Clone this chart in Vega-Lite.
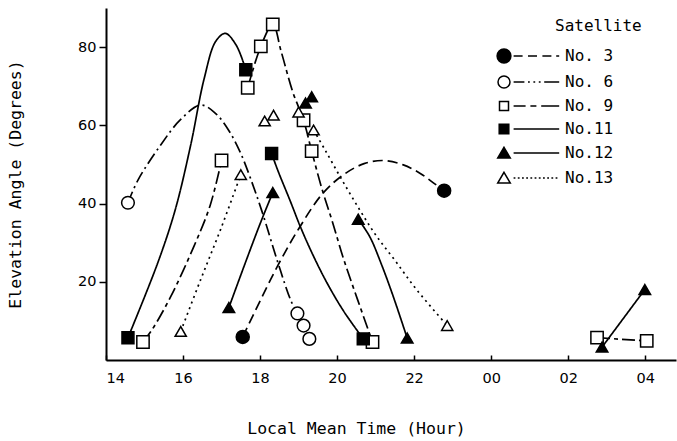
{
  "$schema": "https://vega.github.io/schema/vega-lite/v6.json",
  "width": 570,
  "height": 352,
  "autosize": {"type": "none"},
  "padding": {"left": 106, "top": 8, "right": 1, "bottom": 81},
  "background": "white",
  "config": {
    "view": {"stroke": null},
    "axis": {"grid": false, "domainColor": "black", "domainWidth": 2, "tickColor": "black", "tickWidth": 1.5, "labelColor": "black", "titleColor": "black", "labelFont": "DejaVu Sans", "labelFontSize": 14.5, "titleFont": "DejaVu Sans Mono", "titleFontSize": 16.5, "titleFontWeight": "normal"},
    "legend": {"labelFont": "DejaVu Sans Mono", "labelFontSize": 16, "titleFont": "DejaVu Sans Mono", "titleFontSize": 16, "titleFontWeight": "normal", "labelColor": "black", "titleColor": "black"}
  },
  "datasets": {
    "pts": [
      {"sat": "No. 3", "t": 17.55, "elev": 5.9},
      {"sat": "No. 3", "t": 22.78, "elev": 43.3},
      {"sat": "No. 6", "t": 14.57, "elev": 40.2},
      {"sat": "No. 6", "t": 18.97, "elev": 11.9},
      {"sat": "No. 6", "t": 19.13, "elev": 8.8},
      {"sat": "No. 6", "t": 19.28, "elev": 5.4},
      {"sat": "No. 9", "t": 14.96, "elev": 4.6},
      {"sat": "No. 9", "t": 17.0, "elev": 51.0},
      {"sat": "No. 9", "t": 17.68, "elev": 69.6},
      {"sat": "No. 9", "t": 18.02, "elev": 80.2},
      {"sat": "No. 9", "t": 18.33, "elev": 85.8},
      {"sat": "No. 9", "t": 19.13, "elev": 61.3},
      {"sat": "No. 9", "t": 19.34, "elev": 53.4},
      {"sat": "No. 9", "t": 20.92, "elev": 4.6},
      {"sat": "No. 9", "t": 26.75, "elev": 5.7},
      {"sat": "No. 9", "t": 28.04, "elev": 4.9},
      {"sat": "No.11", "t": 14.57, "elev": 5.7},
      {"sat": "No.11", "t": 17.63, "elev": 74.2},
      {"sat": "No.11", "t": 18.3, "elev": 52.8},
      {"sat": "No.11", "t": 20.68, "elev": 5.4},
      {"sat": "No.12", "t": 17.19, "elev": 13.4},
      {"sat": "No.12", "t": 18.33, "elev": 42.8},
      {"sat": "No.12", "t": 19.18, "elev": 65.7},
      {"sat": "No.12", "t": 19.34, "elev": 67.3},
      {"sat": "No.12", "t": 20.55, "elev": 36.0},
      {"sat": "No.12", "t": 21.82, "elev": 5.6},
      {"sat": "No.12", "t": 26.88, "elev": 3.3},
      {"sat": "No.12", "t": 27.99, "elev": 18.0},
      {"sat": "No.13", "t": 15.94, "elev": 7.3},
      {"sat": "No.13", "t": 17.5, "elev": 47.4},
      {"sat": "No.13", "t": 18.12, "elev": 61.1},
      {"sat": "No.13", "t": 18.35, "elev": 62.6},
      {"sat": "No.13", "t": 19.0, "elev": 63.4},
      {"sat": "No.13", "t": 19.39, "elev": 58.8},
      {"sat": "No.13", "t": 22.86, "elev": 8.8}
    ],
    "curves": [
      {"sat": "No. 3", "seg": "3a", "t": 17.55, "elev": 5.9},
      {"sat": "No. 3", "seg": "3a", "t": 18.02, "elev": 15.5},
      {"sat": "No. 3", "seg": "3a", "t": 18.48, "elev": 24.5},
      {"sat": "No. 3", "seg": "3a", "t": 19.0, "elev": 33.5},
      {"sat": "No. 3", "seg": "3a", "t": 19.62, "elev": 42.5},
      {"sat": "No. 3", "seg": "3a", "t": 20.17, "elev": 47.4},
      {"sat": "No. 3", "seg": "3a", "t": 20.7, "elev": 50.2},
      {"sat": "No. 3", "seg": "3a", "t": 21.2, "elev": 51.0},
      {"sat": "No. 3", "seg": "3a", "t": 21.72, "elev": 49.9},
      {"sat": "No. 3", "seg": "3a", "t": 22.16, "elev": 47.7},
      {"sat": "No. 3", "seg": "3a", "t": 22.5, "elev": 45.3},
      {"sat": "No. 3", "seg": "3a", "t": 22.78, "elev": 43.3},
      {"sat": "No. 6", "seg": "6a", "t": 14.57, "elev": 40.2},
      {"sat": "No. 6", "seg": "6a", "t": 14.83, "elev": 46.0},
      {"sat": "No. 6", "seg": "6a", "t": 15.42, "elev": 55.0},
      {"sat": "No. 6", "seg": "6a", "t": 15.94, "elev": 61.5},
      {"sat": "No. 6", "seg": "6a", "t": 16.46, "elev": 65.2},
      {"sat": "No. 6", "seg": "6a", "t": 16.85, "elev": 63.0},
      {"sat": "No. 6", "seg": "6a", "t": 17.2, "elev": 58.5},
      {"sat": "No. 6", "seg": "6a", "t": 17.5, "elev": 52.8},
      {"sat": "No. 6", "seg": "6a", "t": 17.75, "elev": 46.5},
      {"sat": "No. 6", "seg": "6a", "t": 18.05, "elev": 38.0},
      {"sat": "No. 6", "seg": "6a", "t": 18.46, "elev": 25.0},
      {"sat": "No. 6", "seg": "6a", "t": 18.8, "elev": 15.2},
      {"sat": "No. 6", "seg": "6a", "t": 18.97, "elev": 11.9},
      {"sat": "No. 9", "seg": "9a", "t": 14.96, "elev": 4.6},
      {"sat": "No. 9", "seg": "9a", "t": 15.2, "elev": 7.8},
      {"sat": "No. 9", "seg": "9a", "t": 15.68, "elev": 16.2},
      {"sat": "No. 9", "seg": "9a", "t": 16.28, "elev": 29.0},
      {"sat": "No. 9", "seg": "9a", "t": 16.7, "elev": 39.4},
      {"sat": "No. 9", "seg": "9a", "t": 17.0, "elev": 51.0},
      {"sat": "No. 9", "seg": "9b", "t": 17.68, "elev": 69.6},
      {"sat": "No. 9", "seg": "9b", "t": 18.02, "elev": 80.2},
      {"sat": "No. 9", "seg": "9b", "t": 18.33, "elev": 85.8},
      {"sat": "No. 9", "seg": "9b", "t": 18.55, "elev": 78.8},
      {"sat": "No. 9", "seg": "9b", "t": 18.85, "elev": 68.5},
      {"sat": "No. 9", "seg": "9b", "t": 19.13, "elev": 61.3},
      {"sat": "No. 9", "seg": "9b", "t": 19.34, "elev": 53.4},
      {"sat": "No. 9", "seg": "9b", "t": 19.6, "elev": 44.0},
      {"sat": "No. 9", "seg": "9b", "t": 19.88, "elev": 35.3},
      {"sat": "No. 9", "seg": "9b", "t": 20.17, "elev": 25.8},
      {"sat": "No. 9", "seg": "9b", "t": 20.53, "elev": 15.5},
      {"sat": "No. 9", "seg": "9b", "t": 20.92, "elev": 4.6},
      {"sat": "No. 9", "seg": "9c", "t": 26.75, "elev": 5.7},
      {"sat": "No. 9", "seg": "9c", "t": 28.04, "elev": 4.9},
      {"sat": "No.11", "seg": "11a", "t": 14.57, "elev": 5.7},
      {"sat": "No.11", "seg": "11a", "t": 15.35, "elev": 25.0},
      {"sat": "No.11", "seg": "11a", "t": 15.8, "elev": 38.5},
      {"sat": "No.11", "seg": "11a", "t": 16.2, "elev": 55.0},
      {"sat": "No.11", "seg": "11a", "t": 16.55, "elev": 72.0},
      {"sat": "No.11", "seg": "11a", "t": 16.85, "elev": 81.5},
      {"sat": "No.11", "seg": "11a", "t": 17.1, "elev": 83.5},
      {"sat": "No.11", "seg": "11a", "t": 17.38, "elev": 80.5},
      {"sat": "No.11", "seg": "11a", "t": 17.63, "elev": 74.2},
      {"sat": "No.11", "seg": "11b", "t": 18.3, "elev": 52.8},
      {"sat": "No.11", "seg": "11b", "t": 18.46, "elev": 48.5},
      {"sat": "No.11", "seg": "11b", "t": 18.79, "elev": 40.5},
      {"sat": "No.11", "seg": "11b", "t": 19.05, "elev": 34.0},
      {"sat": "No.11", "seg": "11b", "t": 19.39, "elev": 26.5},
      {"sat": "No.11", "seg": "11b", "t": 19.75, "elev": 19.5},
      {"sat": "No.11", "seg": "11b", "t": 20.17, "elev": 12.5},
      {"sat": "No.11", "seg": "11b", "t": 20.68, "elev": 5.4},
      {"sat": "No.12", "seg": "12a", "t": 17.19, "elev": 13.4},
      {"sat": "No.12", "seg": "12a", "t": 17.68, "elev": 26.5},
      {"sat": "No.12", "seg": "12a", "t": 18.02, "elev": 35.3},
      {"sat": "No.12", "seg": "12a", "t": 18.33, "elev": 42.8},
      {"sat": "No.12", "seg": "12b", "t": 20.55, "elev": 36.0},
      {"sat": "No.12", "seg": "12b", "t": 20.85, "elev": 31.5},
      {"sat": "No.12", "seg": "12b", "t": 21.15, "elev": 24.5},
      {"sat": "No.12", "seg": "12b", "t": 21.46, "elev": 16.2},
      {"sat": "No.12", "seg": "12b", "t": 21.82, "elev": 5.6},
      {"sat": "No.12", "seg": "12c", "t": 26.88, "elev": 3.3},
      {"sat": "No.12", "seg": "12c", "t": 27.99, "elev": 18.0},
      {"sat": "No.13", "seg": "13a", "t": 15.94, "elev": 7.3},
      {"sat": "No.13", "seg": "13a", "t": 16.46, "elev": 20.6},
      {"sat": "No.13", "seg": "13a", "t": 16.98, "elev": 33.5},
      {"sat": "No.13", "seg": "13a", "t": 17.5, "elev": 47.4},
      {"sat": "No.13", "seg": "13b", "t": 19.39, "elev": 58.8},
      {"sat": "No.13", "seg": "13b", "t": 19.7, "elev": 53.5},
      {"sat": "No.13", "seg": "13b", "t": 20.1, "elev": 46.5},
      {"sat": "No.13", "seg": "13b", "t": 20.55, "elev": 39.0},
      {"sat": "No.13", "seg": "13b", "t": 21.0, "elev": 32.0},
      {"sat": "No.13", "seg": "13b", "t": 21.5, "elev": 25.5},
      {"sat": "No.13", "seg": "13b", "t": 22.08, "elev": 17.8},
      {"sat": "No.13", "seg": "13b", "t": 22.86, "elev": 8.8}
    ]
  },
  "encoding": {
    "x": {"field": "t", "type": "quantitative", "scale": {"domain": [14, 28.8], "nice": false, "zero": false},
      "axis": {"values": [14, 16, 18, 20, 22, 24, 26, 28], "labelExpr": "(datum.value % 24) < 10 ? '0' + (datum.value % 24) : '' + (datum.value % 24)", "tickSize": -5, "labelPadding": 16, "labelBaseline": "top", "title": "Local Mean Time (Hour)", "titleX": 250, "titleY": 68, "titleBaseline": "middle", "titleAlign": "center"}},
    "y": {"field": "elev", "type": "quantitative", "scale": {"domain": [0, 90], "nice": false, "zero": true},
      "axis": {"values": [20, 40, 60, 80], "tickSize": 7, "labelPadding": 3, "title": "Elevation Angle (Degrees)", "titleX": -91, "titleY": 176, "titleAngle": -90, "titleBaseline": "middle", "titleAlign": "center"}}
  },
  "layer": [
    {
      "data": {"name": "curves"},
      "mark": {"type": "line", "interpolate": "catmull-rom", "color": "black", "strokeWidth": 1.7},
      "encoding": {
        "detail": {"field": "seg"},
        "strokeDash": {"field": "sat", "type": "nominal", "legend": null,
          "scale": {"domain": ["No. 3", "No. 6", "No. 9", "No.11", "No.12", "No.13"], "range": [[10, 5], [12, 4, 2, 4], [13, 4, 4, 4], [1, 0], [1, 0], [2, 4]]}}
      }
    },
    {
      "data": {"name": "pts"},
      "mark": {"type": "point", "filled": true, "stroke": "black", "strokeWidth": 1.5, "opacity": 1},
      "encoding": {
        "shape": {"field": "sat", "type": "nominal", "legend": null,
          "scale": {"domain": ["No. 3", "No. 6", "No. 9", "No.11", "No.12", "No.13"], "range": ["circle", "circle", "square", "square", "triangle-up", "triangle-up"]}},
        "fill": {"field": "sat", "type": "nominal", "legend": null,
          "scale": {"domain": ["No. 3", "No. 6", "No. 9", "No.11", "No.12", "No.13"], "range": ["black", "white", "white", "black", "black", "white"]}},
        "size": {"field": "sat", "type": "nominal", "legend": null,
          "scale": {"domain": ["No. 3", "No. 6", "No. 9", "No.11", "No.12", "No.13"], "range": [170, 125, 100, 100, 120, 115]}}
      }
    },
    {
      "data": {"name": "pts"},
      "transform": [{"filter": "false"}],
      "mark": {"type": "point", "filled": true, "strokeWidth": 1.5, "opacity": 1},
      "encoding": {
        "shape": {"field": "sat", "type": "nominal",
          "legend": {"orient": "none", "legendX": 390, "legendY": 10, "title": "Satellite", "symbolSize": 144, "symbolStrokeWidth": 1.5, "symbolOpacity": 1, "labelOffset": 53, "rowPadding": 7, "titleAnchor": "middle", "titleAlign": "left", "titlePadding": 14, "padding": 0},
          "scale": {"domain": ["No. 3", "No. 6", "No. 9", "No.11", "No.12", "No.13"],
            "range": [
              "M-1.15,0A1.15,1.15,0,1,1,1.15,0A1.15,1.15,0,1,1,-1.15,0ZM1.6,0H3.1M4.0,0H5.5M6.4,0H7.9M8.7,0H9.2",
              "M-1.0,0A1.0,1.0,0,1,1,1.0,0A1.0,1.0,0,1,1,-1.0,0ZM1.6,0H3.4M4.0,0H4.3M4.9,0H5.2M5.8,0H6.1M6.7,0H9.2",
              "M-0.75,-0.75H0.75V0.75H-0.75ZM1.6,0H3.6M4.4,0H5.4M6.2,0H9.2",
              "M-0.8,-0.8H0.8V0.8H-0.8ZM1.6,0H9.2",
              "M0,-0.95L1.05,0.85H-1.05ZM1.6,0H9.2",
              "M0,-0.95L1.05,0.85H-1.05ZM1.6,0H1.9M2.3,0H2.6M3.0,0H3.3M3.7,0H4.0M4.4,0H4.7M5.1,0H5.4M5.8,0H6.1M6.5,0H6.8M7.2,0H7.5M7.9,0H8.2M8.6,0H8.9"
            ]}},
        "fill": {"field": "sat", "type": "nominal",
          "scale": {"domain": ["No. 3", "No. 6", "No. 9", "No.11", "No.12", "No.13"], "range": ["black", "white", "white", "black", "black", "white"]}},
        "stroke": {"field": "sat", "type": "nominal",
          "scale": {"domain": ["No. 3", "No. 6", "No. 9", "No.11", "No.12", "No.13"], "range": ["black", "black", "black", "black", "black", "black"]}}
      }
    }
  ],
  "resolve": {"scale": {"shape": "independent", "fill": "independent", "stroke": "independent", "strokeDash": "independent", "size": "independent"}, "legend": {"shape": "independent", "fill": "independent", "stroke": "independent"}}
}
